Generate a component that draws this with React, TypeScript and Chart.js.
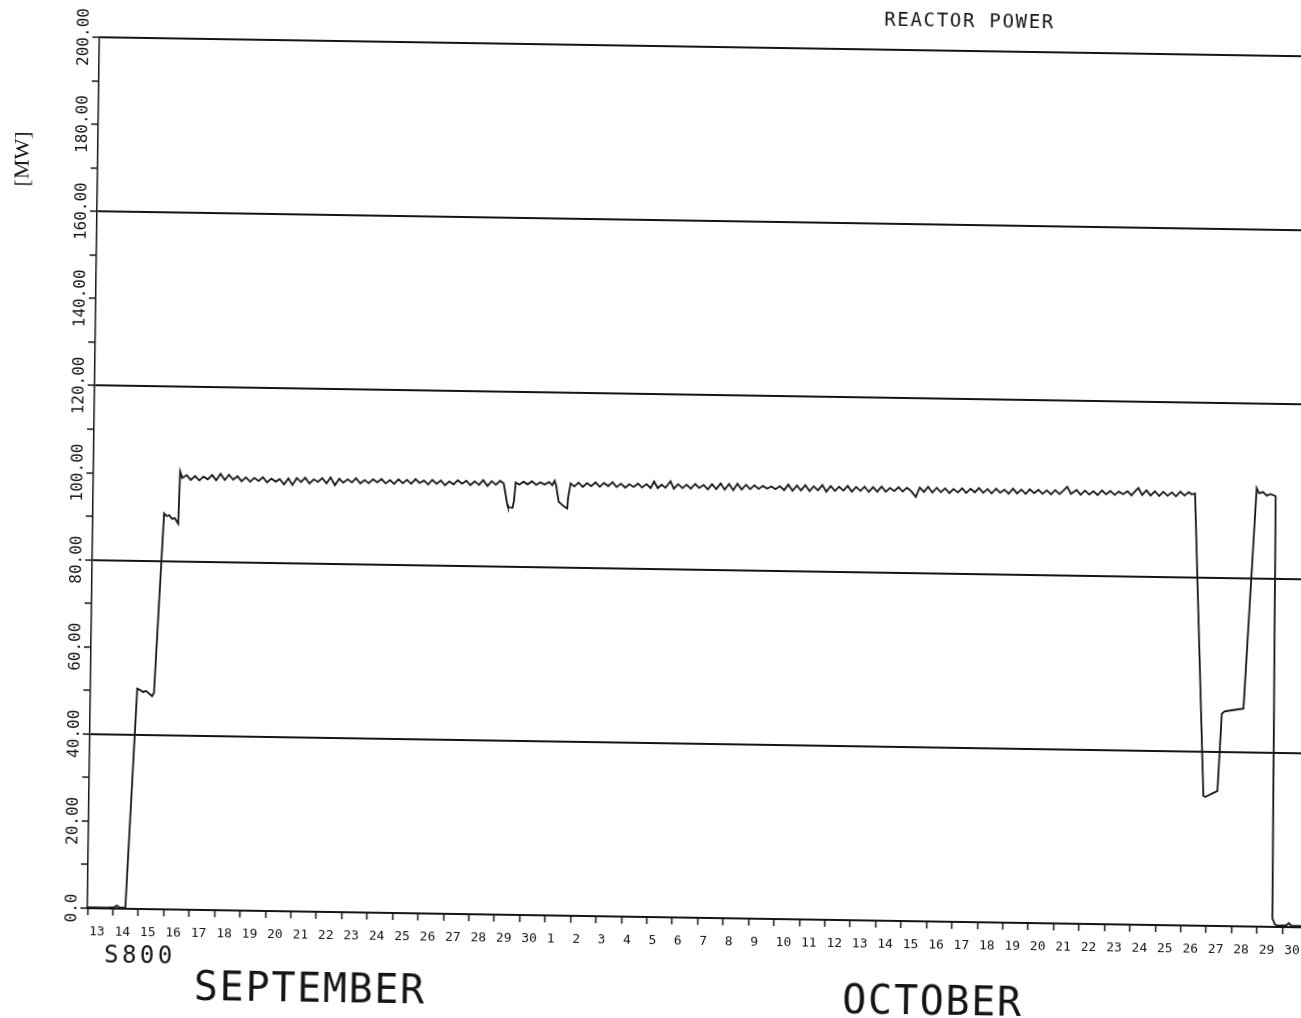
import { useEffect, useRef } from "react";
import { Chart, registerables } from "chart.js";

Chart.register(...registerables);

// ---------------- data ----------------
// x axis: days counted from the Sep 13 tick (0) to the Oct 30 tick (47)
const dayLabels: string[] = [
  "13", "14", "15", "16", "17", "18", "19", "20", "21", "22", "23", "24", "25", "26", "27", "28", "29", "30",
  "1", "2", "3", "4", "5", "6", "7", "8", "9", "10", "11", "12", "13", "14", "15", "16", "17", "18", "19", "20",
  "21", "22", "23", "24", "25", "26", "27", "28", "29", "30",
];

const yLabelValues: number[] = [0, 20, 40, 60, 80, 100, 120, 140, 160, 180, 200];
const yLabelTexts: string[] = ["0.0", "20.00", "40.00", "60.00", "80.00", "100.00", "120.00", "140.00", "160.00", "180.00", "200.00"];

const chartTitle = "REACTOR POWER";
const unitLabel = "[MW]";
const runLabel = "S800";
const monthLabels: string[] = ["SEPTEMBER", "OCTOBER"];

// reactor power readings: [day, MW]
const startup: [number, number][] = [
  [0, 0.2], [0.8, 0.2], [1.05, 0.3], [1.15, 0.7], [1.25, 0.3], [1.49, 0.2],
  [1.84, 50.6], [1.95, 50.3], [2.08, 49.8], [2.18, 50.1], [2.43, 48.9], [2.5, 49.7],
  [2.8, 90.9], [2.9, 90.3], [3.0, 90.5], [3.12, 89.7], [3.22, 89.9], [3.36, 88.6],
  [3.41, 100.6],
];

const septemberRun: [number, number][] = [
  [3.5, 99.1], [3.67, 99.8], [3.83, 98.7],
  [4.0, 99.6], [4.17, 98.6], [4.33, 99.5], [4.5, 98.9], [4.67, 99.9], [4.83, 98.7],
  [5.0, 100.2], [5.17, 98.8], [5.33, 100.0], [5.5, 98.9], [5.67, 99.7], [5.83, 98.6],
  [6.0, 99.5], [6.17, 98.5], [6.33, 99.4], [6.5, 98.7], [6.67, 99.6], [6.83, 98.4],
  [7.0, 99.3], [7.17, 98.6], [7.33, 99.2], [7.5, 98.0], [7.67, 99.4], [7.83, 97.9],
  [8.0, 99.5], [8.17, 98.6], [8.33, 99.6], [8.5, 98.3], [8.67, 99.3], [8.83, 98.7],
  [9.0, 99.6], [9.17, 98.4], [9.33, 99.8], [9.5, 98.0], [9.67, 99.5], [9.83, 98.6],
  [10.0, 99.4], [10.17, 98.7], [10.33, 99.7], [10.5, 98.5], [10.67, 99.3], [10.83, 98.6],
  [11.0, 99.5], [11.17, 98.8], [11.33, 99.6], [11.5, 98.6], [11.67, 99.4], [11.83, 98.5],
  [12.0, 99.6], [12.17, 98.7], [12.33, 99.5], [12.5, 98.6], [12.67, 99.7], [12.83, 98.8],
  [13.0, 99.4], [13.17, 98.5], [13.33, 99.6], [13.5, 98.7], [13.67, 99.5], [13.83, 98.4],
  [14.0, 99.3], [14.17, 98.6], [14.33, 99.6], [14.5, 98.8], [14.67, 99.5], [14.83, 98.5],
  [15.0, 99.4], [15.17, 98.6], [15.33, 99.7], [15.5, 98.4], [15.67, 99.5], [15.83, 98.7],
  [16.0, 99.6], [16.14, 99.0],
];

const firstDip: [number, number][] = [
  [16.29, 94.2], [16.32, 93.6], [16.5, 93.5], [16.55, 95.0], [16.61, 99.3],
];

const betweenDips: [number, number][] = [
  [16.75, 98.8], [16.92, 99.5], [17.08, 98.9], [17.25, 99.6], [17.42, 98.8], [17.58, 99.4],
  [17.75, 98.9], [17.92, 99.5], [18.05, 98.8], [18.14, 99.8],
];

const secondDip: [number, number][] = [
  [18.2, 98.8], [18.31, 95.0], [18.51, 94.0], [18.65, 93.5], [18.68, 96.0], [18.77, 99.3],
];

const octoberRun: [number, number][] = [
  [18.92, 98.6],
  [19.08, 99.5], [19.25, 98.5], [19.42, 99.4], [19.58, 98.7], [19.75, 99.6], [19.92, 98.6],
  [20.08, 99.5], [20.25, 98.8], [20.42, 99.7], [20.58, 98.6], [20.75, 99.4], [20.92, 98.5],
  [21.08, 99.3], [21.25, 98.7], [21.42, 99.5], [21.58, 98.6], [21.75, 99.4], [21.92, 98.5],
  [22.05, 100.0], [22.2, 98.5], [22.35, 99.3], [22.5, 98.6], [22.7, 100.1], [22.83, 98.4],
  [23.0, 99.5], [23.17, 98.6], [23.33, 99.4], [23.5, 98.5], [23.67, 99.6], [23.83, 98.7],
  [24.0, 99.4], [24.17, 98.4], [24.33, 99.6], [24.5, 98.5], [24.67, 99.8], [24.83, 98.4],
  [25.0, 99.7], [25.17, 98.3], [25.33, 99.8], [25.5, 98.5], [25.67, 99.6], [25.83, 98.6],
  [26.0, 99.5], [26.17, 98.7], [26.33, 99.4], [26.5, 98.8], [26.67, 99.3], [26.83, 98.7],
  [27.0, 99.4], [27.17, 98.5], [27.33, 99.8], [27.5, 98.4], [27.67, 99.6], [27.83, 98.5],
  [28.0, 99.7], [28.17, 98.4], [28.33, 99.5], [28.5, 98.6], [28.67, 99.8], [28.83, 98.3],
  [29.0, 99.6], [29.17, 98.5], [29.33, 99.5], [29.5, 98.6], [29.67, 99.7], [29.83, 98.4],
  [30.0, 99.5], [30.17, 98.6], [30.33, 99.6], [30.5, 98.4], [30.67, 99.5], [30.83, 98.5],
  [31.0, 99.7], [31.17, 98.5], [31.33, 99.4], [31.5, 98.7], [31.67, 99.6], [31.83, 98.6],
  [32.0, 99.5], [32.17, 98.7], [32.35, 97.4], [32.5, 99.6], [32.67, 98.6], [32.83, 99.8],
  [33.0, 98.5], [33.17, 99.6], [33.33, 98.6], [33.5, 99.5], [33.67, 98.4], [33.83, 99.4],
  [34.0, 98.6], [34.17, 99.6], [34.33, 98.5], [34.5, 99.5], [34.67, 98.7], [34.83, 99.7],
  [35.0, 98.6], [35.17, 99.5], [35.33, 98.5], [35.5, 99.6], [35.67, 98.7], [35.83, 99.4],
  [36.0, 98.5], [36.17, 99.7], [36.33, 98.6], [36.5, 99.5], [36.67, 98.5], [36.83, 99.6],
  [37.0, 98.7], [37.17, 99.5], [37.33, 98.6], [37.5, 99.4], [37.67, 98.5], [37.83, 99.5],
  [38.0, 98.6], [38.15, 99.4], [38.3, 100.3], [38.45, 98.7], [38.67, 99.6], [38.83, 98.5],
  [39.0, 99.5], [39.17, 98.6], [39.33, 99.4], [39.5, 98.5], [39.67, 99.6], [39.83, 98.7],
  [40.0, 99.5], [40.17, 98.6], [40.33, 99.4], [40.5, 98.8], [40.67, 99.5], [40.83, 98.6],
  [41.0, 99.7], [41.1, 100.3], [41.25, 98.7], [41.42, 99.8], [41.58, 98.6], [41.75, 99.6], [41.92, 98.5],
  [42.08, 99.5], [42.25, 98.6], [42.42, 99.4], [42.58, 98.5], [42.75, 99.6], [42.92, 98.7],
  [43.08, 99.5], [43.2, 99.0], [43.33, 99.2],
];

const shutdown: [number, number][] = [
  [43.82, 29.8], [43.9, 29.6], [44.0, 29.9], [44.2, 30.5], [44.37, 31.0],
  [44.5, 48.7], [44.6, 49.3], [44.9, 49.6], [45.35, 50.0],
  [45.75, 100.7], [45.85, 99.5], [46.0, 99.8], [46.15, 99.0], [46.3, 99.4], [46.5, 98.9],
  [46.6, 2.0], [46.7, 0.6], [46.8, 0.3], [47.15, 0.4], [47.25, 0.9], [47.35, 0.3], [48.5, 0.3],
];

// ---------------- styling ----------------
const INK = "#151515";
const W = 1339;
const H = 1040;
const MONO = "'DejaVu Sans Mono', 'Liberation Mono', monospace";

const textPlugin = {
  id: "plotterText",
  afterDraw(chart: any) {
    const ctx: CanvasRenderingContext2D = chart.ctx;
    const yScale = chart.scales.y;
    const area = chart.chartArea;
    ctx.save();
    ctx.fillStyle = INK;

    // rotated y tick labels
    ctx.font = `16px ${MONO}`;
    ctx.textAlign = "center";
    ctx.textBaseline = "alphabetic";
    yLabelValues.forEach((v, i) => {
      const py = yScale.getPixelForValue(v);
      ctx.save();
      ctx.translate(area.left - 16.6 + 0.365 * 16, py);
      ctx.rotate(-Math.PI / 2);
      ctx.fillText(yLabelTexts[i], 0, 0);
      ctx.restore();
    });

    // unit label
    ctx.font = "22px 'Liberation Serif', 'DejaVu Serif', serif";
    ctx.save();
    ctx.translate(18.2 + 0.25 * 22, 168.9);
    ctx.rotate(-Math.PI / 2);
    ctx.fillText(unitLabel, 0, 0);
    ctx.restore();

    // title
    (ctx as any).letterSpacing = "1.7px";
    ctx.font = `19px ${MONO}`;
    ctx.fillText(chartTitle, 962.8, 22.4);

    (ctx as any).letterSpacing = "3.5px";
    ctx.font = `24px ${MONO}`;
    ctx.fillText(runLabel, 146.1, 971.2);

    (ctx as any).letterSpacing = "1.7px";
    ctx.font = `40px ${MONO}`;
    ctx.fillText(monthLabels[0], 316.6, 1006.7);
    ctx.fillText(monthLabels[1], 939.3, 1010.1);

    ctx.restore();
  },
};

export default function App() {
  const ref = useRef<HTMLCanvasElement>(null);

  useEffect(() => {
    const canvas = ref.current;
    if (!canvas) return;
    const points = [
      ...startup, ...septemberRun, ...firstDip, ...betweenDips, ...secondDip, ...octoberRun, ...shutdown,
    ].map(([x, y]) => ({ x, y }));

    const chart = new Chart(canvas, {
      type: "line",
      data: {
        datasets: [
          {
            data: points,
            borderColor: INK,
            borderWidth: 1.8,
            pointRadius: 0,
            tension: 0,
            fill: false,
            clip: false as any,
          },
        ],
      },
      options: {
        responsive: false,
        animation: false,
        devicePixelRatio: 1,
        events: [],
        parsing: false as any,
        layout: { padding: { top: 46, left: 0, right: 0, bottom: 0 }, autoPadding: false } as any,
        plugins: {
          legend: { display: false },
          tooltip: { enabled: false },
          title: { display: false },
        },
        scales: {
          x: {
            type: "linear",
            min: 0,
            max: 49,
            afterFit: (s: any) => {
              s.height = H - 917;
              s.paddingLeft = 0;
              s.paddingRight = 0;
            },
            ticks: {
              stepSize: 1,
              autoSkip: false,
              maxRotation: 0,
              minRotation: 0,
              align: "start",
              labelOffset: 2,
              padding: 9,
              color: INK,
              font: { family: MONO, size: 13 },
              callback: (v: any) => {
                const n = Number(v);
                return Number.isInteger(n) && n >= 0 && n < dayLabels.length ? dayLabels[n] : "";
              },
            },
            grid: {
              drawOnChartArea: false,
              drawTicks: true,
              tickLength: 7,
              tickColor: INK,
              tickWidth: 1.5,
              color: INK,
            },
            border: { display: true, color: INK, width: 2 },
          },
          y: {
            type: "linear",
            min: 0,
            max: 200,
            afterFit: (s: any) => {
              s.width = 93;
              s.paddingTop = 0;
              s.paddingBottom = 0;
            },
            ticks: { stepSize: 10, display: false },
            grid: {
              color: (c: any) => (c.tick && c.tick.value % 40 === 0 ? INK : "rgba(0,0,0,0)"),
              lineWidth: 2,
              drawTicks: true,
              tickLength: 7,
              tickColor: INK,
              tickWidth: 1.5,
            },
            border: { display: true, color: INK, width: 1.5 },
          },
        },
      } as any,
      plugins: [textPlugin],
    });
    return () => chart.destroy();
  }, []);

  return (
    <div
      style={{
        position: "fixed",
        left: 0,
        top: 0,
        width: 1301,
        height: 1018,
        overflow: "hidden",
        background: "#fff",
      }}
    >
      <canvas
        ref={ref}
        width={W}
        height={H}
        style={{
          position: "absolute",
          left: 0,
          top: 0,
          width: W,
          height: H,
          transformOrigin: "650px 509px",
          transform: "matrix(0.99988, 0.0158, -0.0138, 0.9999, 0, 0)",
        }}
      />
    </div>
  );
}
